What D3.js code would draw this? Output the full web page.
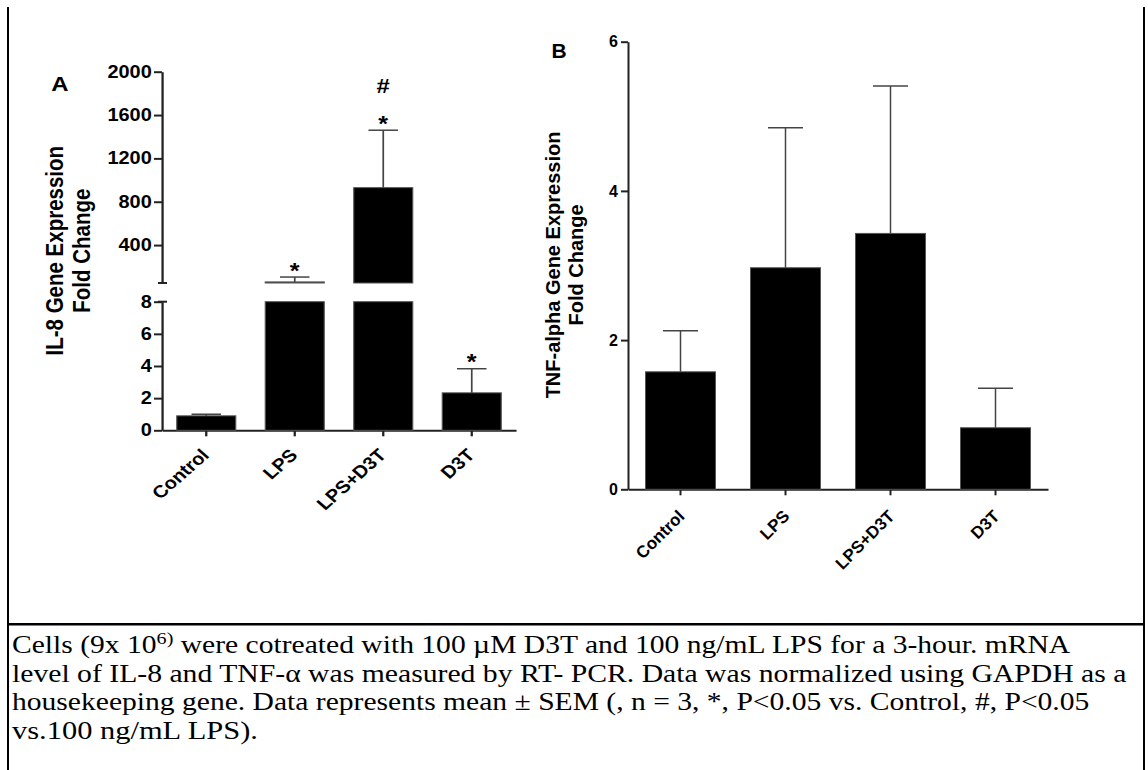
<!DOCTYPE html>
<html><head><meta charset="utf-8">
<script src="https://cdn.jsdelivr.net/npm/d3@7"></script>
<style>body{margin:0;background:#fff} svg{display:block}</style>
</head><body>
<svg id="c" width="1148" height="770"></svg>
<script>
// ---------- data ----------
const categories = ["Control", "LPS", "LPS+D3T", "D3T"];
const il8Mean = [0.9, 60, 930, 2.33];
const il8Sem  = [0.1, 45, 530, 1.5];
const il8Marks = [[], ["*"], ["*", "#"], ["*"]];
const il8UpperTicks = [400, 800, 1200, 1600, 2000];
const il8LowerTicks = [0, 2, 4, 6, 8];
const tnfMean = [1.575, 2.97, 3.43, 0.825];
const tnfSem  = [0.55, 1.875, 1.975, 0.53];
const tnfTicks = [0, 2, 4, 6];
const il8Title = ["IL-8 Gene Expression", "Fold Change"];
const tnfTitle = ["TNF-alpha Gene Expression", "Fold Change"];
const captionLine1 = [["Cells (9x 10", false], ["6)", true], [" were cotreated with 100 \u00b5M D3T and 100 ng/mL LPS for a 3-hour. mRNA", false]];
const captionRest = [
  "level of IL-8 and TNF-\u03b1 was measured by RT- PCR. Data was normalized using GAPDH as a",
  "housekeeping gene. Data represents mean \u00b1 SEM (, n = 3, *, P<0.05 vs. Control, #, P<0.05",
  "vs.100 ng/mL LPS)."
];

// ---------- setup ----------
const svg = d3.select("#c");
const SANS = "Liberation Sans, Arial, sans-serif";
const SERIF = "Liberation Serif, Times New Roman, serif";
const AX = "#222";
const fmt = d3.format("d");

function styleAxis(g, fs) {
  g.select(".domain").attr("stroke", AX).attr("stroke-width", 2);
  g.selectAll(".tick line").attr("stroke", AX).attr("stroke-width", 2);
  g.selectAll(".tick text").attr("font-family", SANS).attr("font-weight", "bold")
    .attr("font-size", fs).attr("fill", "#000");
}

// frame lines
svg.append("line").attr("x1", 8).attr("x2", 8).attr("y1", 7).attr("y2", 770).attr("stroke", "#000").attr("stroke-width", 2);
svg.append("line").attr("x1", 1144).attr("x2", 1144).attr("y1", 7).attr("y2", 770).attr("stroke", "#000").attr("stroke-width", 2);
svg.append("line").attr("x1", 7).attr("x2", 1145).attr("y1", 624.3).attr("y2", 624.3).attr("stroke", "#000").attr("stroke-width", 2.5);

// ---------- Panel A (horizontally stretched like the source) ----------
const ox = 162, sxA = 1.14;
const ix = x => ox + (x - ox) / sxA;
const gA = svg.append("g").attr("transform", `translate(${ox},0) scale(${sxA},1) translate(${-ox},0)`);

const xA = d3.scaleBand().domain(categories).range([ix(162), ix(516)]).paddingInner(1/3).paddingOuter(1/6);
const yLo = d3.scaleLinear().domain([0, 8]).range([430.3, 301.7]);
const yHi = d3.scaleLinear().domain([50, 2000]).range([283, 71.7]);
const bwA = xA.bandwidth();

// axes
const aLo = gA.append("g").attr("transform", `translate(${ox},0)`)
  .call(d3.axisLeft(yLo).tickValues(il8LowerTicks).tickFormat(fmt).tickSize(8 / sxA).tickPadding(2).tickSizeOuter(0));
styleAxis(aLo, 17.5);
const aHi = gA.append("g").attr("transform", `translate(${ox},0)`)
  .call(d3.axisLeft(yHi).tickValues(il8UpperTicks).tickFormat(fmt).tickSize(8 / sxA).tickPadding(2).tickSizeOuter(0));
styleAxis(aHi, 17.5);
// break caps
[yHi.range()[0], yLo.range()[1]].forEach(y => {
  gA.append("line").attr("x1", ox - 4 / sxA).attr("x2", ox + 5 / sxA).attr("y1", y).attr("y2", y)
    .attr("stroke", AX).attr("stroke-width", 2);
});
const axA = gA.append("g").attr("transform", `translate(0,${yLo(0)})`)
  .call(d3.axisBottom(xA).tickSize(6).tickSizeOuter(0).tickFormat(""));
styleAxis(axA, 16);

// bars
categories.forEach((c, i) => {
  const x = xA(c), m = il8Mean[i], s = il8Sem[i];
  const lowTop = Math.min(m, 8);
  gA.append("rect").attr("x", x).attr("width", bwA).attr("y", yLo(lowTop)).attr("height", yLo(0) - yLo(lowTop))
    .attr("fill", "#000").attr("stroke", "#555").attr("stroke-width", 1);
  if (m > 8) {
    gA.append("rect").attr("x", x).attr("width", bwA).attr("y", yHi(m)).attr("height", yHi(50) - yHi(m))
      .attr("fill", "#000").attr("stroke", "#555").attr("stroke-width", 1);
  }
  const sc = m > 8 ? yHi : yLo;
  const cx = x + bwA / 2;
  gA.append("line").attr("x1", cx).attr("x2", cx).attr("y1", sc(m)).attr("y2", sc(m + s)).attr("stroke", "#444").attr("stroke-width", 1.5);
  gA.append("line").attr("x1", cx - bwA / 4).attr("x2", cx + bwA / 4).attr("y1", sc(m + s)).attr("y2", sc(m + s)).attr("stroke", "#444").attr("stroke-width", 1.5);
  il8Marks[i].forEach((mk, k) => {
    const cy = sc(m + s) - 12 - 33 * k;
    gA.append("text").attr("x", cx).attr("y", mk === "*" ? cy + 12.5 : cy + 7.5)
      .attr("text-anchor", "middle").attr("font-family", SANS).attr("font-weight", "bold")
      .attr("font-size", mk === "*" ? 22 : 21).text(mk);
  });
  gA.append("text").attr("transform", `translate(${cx + 4 / sxA},${yLo(0) + 26}) rotate(-45)`)
    .attr("text-anchor", "end").attr("font-family", SANS).attr("font-weight", "bold").attr("font-size", 17.5).text(c);
});

// titles
gA.append("text").attr("x", ix(60)).attr("y", 91.5).attr("text-anchor", "middle")
  .attr("font-family", SANS).attr("font-weight", "bold").attr("font-size", 21).text("A");
il8Title.forEach((t, k) => {
  gA.append("text").attr("transform", `translate(${ix(63 + 27.3 * k)},250.7) rotate(-90)`)
    .attr("text-anchor", "middle").attr("font-family", SANS).attr("font-weight", "bold").attr("font-size", 20.5).text(t);
});

// ---------- Panel B ----------
const gB = svg.append("g");
const xB = d3.scaleBand().domain(categories).range([628, 1048]).paddingInner(1/3).paddingOuter(1/6);
const yB = d3.scaleLinear().domain([0, 6]).range([489.3, 41.7]);
const bwB = xB.bandwidth();
const ayB = gB.append("g").attr("transform", "translate(628,0)")
  .call(d3.axisLeft(yB).tickValues(tnfTicks).tickFormat(fmt).tickSize(7).tickPadding(3).tickSizeOuter(0));
styleAxis(ayB, 16);
const axB = gB.append("g").attr("transform", `translate(0,${yB(0)})`)
  .call(d3.axisBottom(xB).tickSize(6).tickSizeOuter(0).tickFormat(""));
styleAxis(axB, 16);

categories.forEach((c, i) => {
  const x = xB(c), m = tnfMean[i], s = tnfSem[i], cx = x + bwB / 2;
  gB.append("rect").attr("x", x).attr("width", bwB).attr("y", yB(m)).attr("height", yB(0) - yB(m))
    .attr("fill", "#000").attr("stroke", "#555").attr("stroke-width", 1);
  gB.append("line").attr("x1", cx).attr("x2", cx).attr("y1", yB(m)).attr("y2", yB(m + s)).attr("stroke", "#444").attr("stroke-width", 1.5);
  gB.append("line").attr("x1", cx - bwB / 4).attr("x2", cx + bwB / 4).attr("y1", yB(m + s)).attr("y2", yB(m + s)).attr("stroke", "#444").attr("stroke-width", 1.5);
  gB.append("text").attr("transform", `translate(${cx + 5},${yB(0) + 28}) rotate(-45)`)
    .attr("text-anchor", "end").attr("font-family", SANS).attr("font-weight", "bold").attr("font-size", 17).text(c);
});
gB.append("text").attr("x", 559).attr("y", 58.3).attr("text-anchor", "middle")
  .attr("font-family", SANS).attr("font-weight", "bold").attr("font-size", 21).text("B");
tnfTitle.forEach((t, k) => {
  gB.append("text").attr("transform", `translate(${559.5 + 23.2 * k},265) rotate(-90)`)
    .attr("text-anchor", "middle").attr("font-family", SANS).attr("font-weight", "bold").attr("font-size", 20).text(t);
});

// ---------- Caption ----------
const capX = 12, capBase = [652.7, 681.6, 710.3, 739.3], capW = [1059, 1115, 1078, 246];
function fitLine(t, w) {
  const nat = t.node().getComputedTextLength();
  t.attr("transform", `translate(${capX},0) scale(${w / nat},1) translate(${-capX},0)`);
}
const t1 = svg.append("text").attr("x", capX).attr("y", capBase[0]).attr("font-family", SERIF).attr("font-size", 25);
captionLine1.forEach(([s, sup], k) => {
  const ts = t1.append("tspan").text(s);
  if (sup) ts.attr("font-size", 17).attr("dy", -9);
  else if (k > 0) ts.attr("dy", 9);
});
fitLine(t1, capW[0]);
captionRest.forEach((s, k) => {
  const t = svg.append("text").attr("x", capX).attr("y", capBase[k + 1]).attr("font-family", SERIF).attr("font-size", 25).text(s);
  fitLine(t, capW[k + 1]);
});
</script>
</body></html>
